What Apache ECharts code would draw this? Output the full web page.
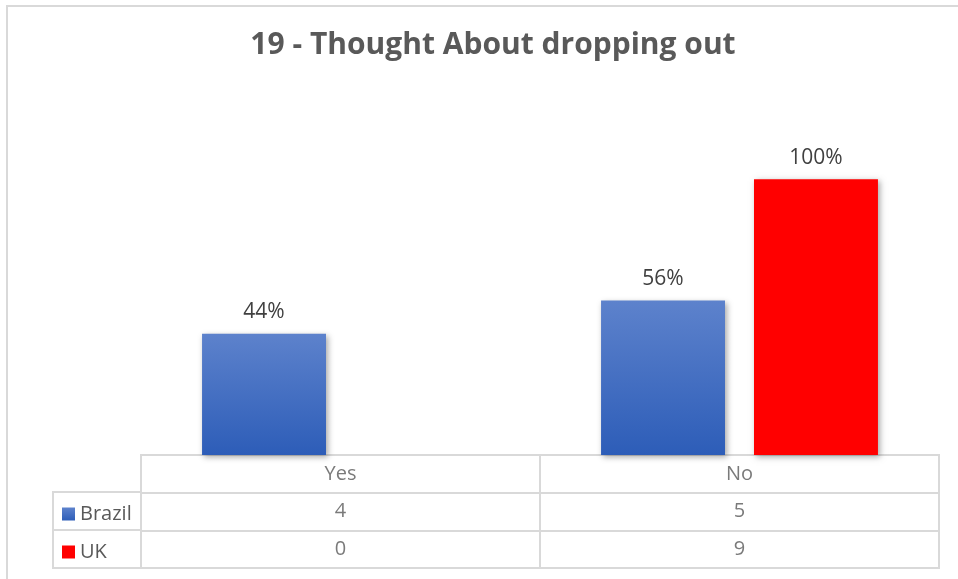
<!DOCTYPE html>
<html>
<head>
<meta charset="utf-8">
<script src="https://cdn.jsdelivr.net/npm/echarts@6/dist/echarts.min.js"></script>
<style>
  html, body { margin: 0; padding: 0; background: #fff; }
  #chart { width: 958px; height: 579px; }
</style>
</head>
<body>
<div id="chart"></div>
<script>
// Survey answers, share of respondents per country (%)
const categories = ['Yes', 'No'];
const brazilPct = [44, 56];
const ukPct = [0, 100];
// Respondent counts shown in the data table
const brazilCount = [4, 5];
const ukCount = [0, 9];
const seriesNames = ['Brazil', 'UK'];
const titleText = '19 - Thought About dropping out';

const FONT = '"Open Sans", "Noto Sans", sans-serif';
const LINE = '#d9d9d9';
const TEXT = '#595959';

const brazilFill = new echarts.graphic.LinearGradient(0, 0, 0, 1, [
  { offset: 0, color: '#5d82cc' },
  { offset: 1, color: '#2d5db8' }
]);

const barShadow = {
  shadowBlur: 6,
  shadowColor: 'rgba(0,0,0,0.35)',
  shadowOffsetX: 2,
  shadowOffsetY: 2
};

const pctLabel = {
  show: true,
  position: 'top',
  distance: 11,
  fontFamily: FONT,
  fontSize: 21,
  color: '#404040',
  formatter: p => (p.value === 0 ? '' : p.value + '%')
};

// Data table cells: header row, then one row per country
const rowKeys = ['head', 'Brazil', 'UK'];
const tableCells = [];
categories.forEach((c, i) => {
  tableCells.push([c, 'head', c]);
  tableCells.push([c, 'Brazil', String(brazilCount[i])]);
  tableCells.push([c, 'UK', String(ukCount[i])]);
});

const chart = echarts.init(document.getElementById('chart'));
chart.setOption({
  backgroundColor: '#fff',
  animation: false,
  title: {
    text: titleText,
    left: 488,
    textAlign: 'center',
    top: 25,
    textStyle: { fontFamily: FONT, fontSize: 30, fontWeight: 'bold', color: TEXT }
  },
  graphic: [{
    type: 'rect',
    silent: true,
    shape: { x: 7, y: 6, width: 1200, height: 1200 },
    style: { fill: 'none', stroke: LINE, lineWidth: 2 }
  }],
  legend: {
    data: seriesNames,
    orient: 'vertical',
    left: 57,
    top: 498,
    itemWidth: 13,
    itemHeight: 13,
    itemGap: 16,
    icon: 'rect',
    textStyle: { fontFamily: FONT, fontSize: 20, color: TEXT, lineHeight: 22 },
    selectedMode: false
  },
  grid: [
    { left: 141, right: 19, top: 124, bottom: 124 },
    { left: 141, right: 19, top: 455, bottom: 11, show: true, borderColor: LINE, borderWidth: 2 },
    { left: 53, width: 88, top: 492, bottom: 11, show: true, borderColor: LINE, borderWidth: 2 }
  ],
  xAxis: [
    { type: 'category', data: categories, gridIndex: 0, show: false },
    {
      type: 'category', data: categories, gridIndex: 1,
      axisLine: { show: false }, axisTick: { show: false }, axisLabel: { show: false },
      splitLine: { show: true, lineStyle: { color: LINE, width: 2 } }
    },
    { type: 'value', gridIndex: 2, show: false }
  ],
  yAxis: [
    { type: 'value', gridIndex: 0, min: 0, max: 120, show: false },
    {
      type: 'category', data: rowKeys, inverse: true, gridIndex: 1,
      axisLine: { show: false }, axisTick: { show: false }, axisLabel: { show: false },
      splitLine: { show: true, lineStyle: { color: LINE, width: 2 } }
    },
    {
      type: 'category', data: seriesNames, inverse: true, gridIndex: 2,
      axisLine: { show: false }, axisTick: { show: false }, axisLabel: { show: false },
      splitLine: { show: true, lineStyle: { color: LINE, width: 2 } }
    }
  ],
  series: [
    {
      name: 'Brazil', type: 'bar', data: brazilPct,
      barCategoryGap: '30.6%', barGap: '23.4%',
      itemStyle: Object.assign({ color: brazilFill }, barShadow),
      label: pctLabel
    },
    {
      name: 'UK', type: 'bar', data: ukPct,
      barCategoryGap: '30.6%', barGap: '23.4%',
      itemStyle: Object.assign({ color: '#ff0000' }, barShadow),
      label: pctLabel
    },
    {
      name: 'table', type: 'scatter', xAxisIndex: 1, yAxisIndex: 1,
      data: tableCells, symbol: 'rect', symbolSize: 1, silent: true,
      itemStyle: { color: 'rgba(0,0,0,0)' },
      label: {
        show: true, position: 'inside',
        fontFamily: FONT, fontSize: 20, color: TEXT,
        formatter: p => p.value[2]
      }
    }
  ]
});
</script>
</body>
</html>
